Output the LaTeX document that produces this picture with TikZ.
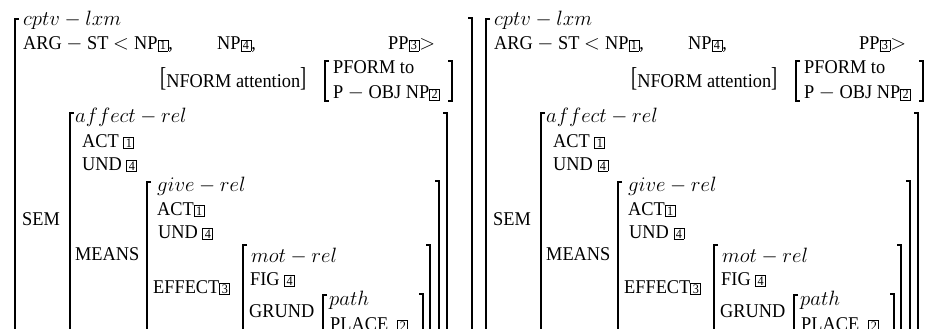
\documentclass[tikz,border=0pt]{standalone}
\usepackage{graphicx}
\usepackage{fontspec}
\setmainfont{Liberation Serif}[FakeStretch=0.94]
\newcommand\bn[1]{{\setlength{\fboxsep}{0.6pt}\setlength{\fboxrule}{0.8pt}\fbox{\makebox[8pt]{\fontsize{13}{13}\selectfont #1}}}}
\newcommand\tb[1]{\raisebox{1.2pt}{\scalebox{1}[1.4]{#1}}}
\tikzset{
 txt/.style={anchor=base west, inner sep=0pt, font=\fontsize{19.5}{23}\selectfont},
 itx/.style={anchor=base west, inner sep=0pt, font=\fontsize{20}{24}\selectfont},
 brk/.style={line width=1.3pt, black},
}
\newcommand\lbr[3]{\draw[brk] (#1+4,#2) -- (#1,#2) -- (#1,#3) -- (#1+4,#3);}
\newcommand\rbr[3]{\draw[brk] (#1-4,#2) -- (#1,#2) -- (#1,#3) -- (#1-4,#3);}
\newcommand\avmcopy{%
 % outer
 \lbr{15}{19}{340}
 \rbr{472}{18}{340}
 \node[itx] (type) at (23,26) {$cptv-lxm$};
 \node[txt] (arg) at (23,50) {ARG $-$ ST $<$};
 \node[txt] (np1) at (134,50) {NP\bn{1},};
 \node[txt] (np4) at (217,50) {NP\bn{4},};
 \node[txt] (pp3) at (388,50) {PP\bn{3}$>$};
 \node[txt] (nform) at (160,88) {\tb{[}NFORM attention\tb{]}};
 \lbr{325}{61}{101}
 \rbr{452}{61}{101}
 \node[txt] (pform) at (333,74) {PFORM to};
 \node[txt] (pobj) at (333,99) {P $-$ OBJ NP\bn{2}};
 % SEM
 \node[txt] (sem) at (22,225) {SEM};
 \lbr{70}{113}{340}
 \rbr{447}{113}{340}
 \node[itx] (aff) at (75,122) {$affect-rel$};
 \node[txt] (act1) at (82,147) {ACT \bn{1}};
 \node[txt] (und1) at (82,170) {UND \bn{4}};
 \node[txt] (means) at (75,260) {MEANS};
 % give
 \lbr{147}{182}{340}
 \rbr{439}{181}{340}
 \node[itx] (give) at (157,191) {$give-rel$};
 \node[txt] (act2) at (157,215) {ACT\bn{1}};
 \node[txt] (und2) at (158,238) {UND \bn{4}};
 \node[txt] (eff) at (153,293) {EFFECT\bn{3}};
 % mot
 \lbr{243}{245}{340}
 \rbr{430}{245}{340}
 \node[itx] (mot) at (251,262) {$mot-rel$};
 \node[txt] (fig) at (250,285) {FIG \bn{4}};
 \node[txt] (grund) at (249,317) {GRUND};
 % path
 \lbr{323}{295}{340}
 \rbr{423}{294}{340}
 \node[itx] (path) at (329,305) {$path$};
 \node[txt] (place) at (330,330) {PLACE \ \bn{2}};
}
\begin{document}
\begin{tikzpicture}[x=1pt,y=-1pt]
\useasboundingbox (0,0) rectangle (934,329);
\clip (0,0) rectangle (934,329);
\begin{scope}[name prefix=L-]
\avmcopy
\end{scope}
\begin{scope}[xshift=471pt, name prefix=R-]
\avmcopy
\end{scope}
\end{tikzpicture}
\end{document}
